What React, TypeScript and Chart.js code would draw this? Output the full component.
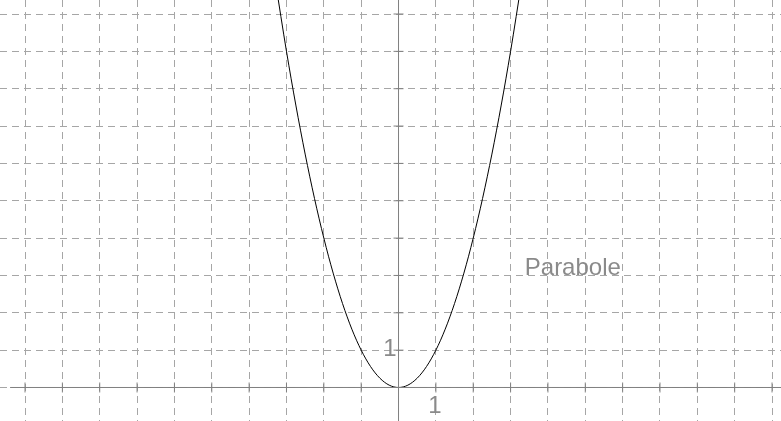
import React, { useEffect, useRef } from "react";
import { Chart, registerables } from "chart.js";

Chart.register(...registerables);

// Parabola points
const parabolaX = [-3.3, -3, -2.75, -2.5, -2.25, -2, -1.75, -1.5, -1.25, -1, -0.75, -0.5, -0.25, 0, 0.25, 0.5, 0.75, 1, 1.25, 1.5, 1.75, 2, 2.25, 2.5, 2.75, 3, 3.3];
const parabolaY = [10.89, 9, 7.5625, 6.25, 5.0625, 4, 3.0625, 2.25, 1.5625, 1, 0.5625, 0.25, 0.0625, 0, 0.0625, 0.25, 0.5625, 1, 1.5625, 2.25, 3.0625, 4, 5.0625, 6.25, 7.5625, 9, 10.89];

// Axis tick marks
const xTickValues = [-10, -9, -8, -7, -6, -5, -4, -3, -2, -1, 1, 2, 3, 4, 5, 6, 7, 8, 9, 10];
const yTickValues = [1, 2, 3, 4, 5, 6, 7, 8, 9, 10];

// Axis extents
const xAxisRange = [-10.4, 10.3];
const yAxisRange = [-1, 11];

// View window
const xMin = -10.67;
const xMax = 10.24;
const yMin = -0.897;
const yMax = 10.375;

// Labels
const curveLabel = "Parabole";
const curveLabelPos = [3.38, 3];
const unitLabel = "1";

export default function App() {
  const ref = useRef<HTMLCanvasElement>(null);
  useEffect(() => {
    const canvas = ref.current;
    if (!canvas) return;
    const labelPlugin = {
      id: "labels",
      afterDatasetsDraw(chart: any) {
        const ctx = chart.ctx;
        const xs = chart.scales.x;
        const ys = chart.scales.y;
        ctx.save();
        ctx.fillStyle = "#8a8a8a";
        ctx.font = '24px "Liberation Sans", Arial, sans-serif';
        ctx.textBaseline = "alphabetic";
        // Curve label
        ctx.textAlign = "left";
        ctx.fillText(curveLabel, xs.getPixelForValue(curveLabelPos[0]), ys.getPixelForValue(curveLabelPos[1]));
        // y unit label
        ctx.textAlign = "right";
        ctx.fillText(unitLabel, xs.getPixelForValue(0) - 2, ys.getPixelForValue(1) + 6);
        // x unit label
        ctx.textAlign = "center";
        ctx.fillText(unitLabel, xs.getPixelForValue(1) - 1, ys.getPixelForValue(0) + 26);
        ctx.restore();
      },
    };
    const axisColor = "#808080";
    const chart = new Chart(canvas, {
      type: "scatter",
      data: {
        datasets: [
          {
            data: [
              { x: xAxisRange[0], y: 0 },
              { x: xAxisRange[1], y: 0 },
            ],
            showLine: true,
            borderColor: axisColor,
            borderWidth: 1,
            pointRadius: 0,
          },
          {
            data: [
              { x: 0, y: yAxisRange[0] },
              { x: 0, y: yAxisRange[1] },
            ],
            showLine: true,
            borderColor: axisColor,
            borderWidth: 1,
            pointRadius: 0,
          },
          {
            data: xTickValues.map((v) => ({ x: v, y: 0 })),
            showLine: false,
            pointStyle: "line",
            rotation: 90,
            pointRadius: 5,
            borderColor: axisColor,
            borderWidth: 1,
          },
          {
            data: yTickValues.map((v) => ({ x: 0, y: v })),
            showLine: false,
            pointStyle: "line",
            rotation: 0,
            pointRadius: 5,
            borderColor: axisColor,
            borderWidth: 1,
          },
          {
            data: parabolaX.map((x, i) => ({ x, y: parabolaY[i] })),
            showLine: true,
            borderColor: "#000000",
            borderWidth: 1,
            pointRadius: 0,
            cubicInterpolationMode: "monotone",
          },
        ],
      },
      options: {
        responsive: false,
        animation: false,
        events: [],
        layout: { padding: 0, autoPadding: false },
        plugins: { legend: { display: false }, tooltip: { enabled: false } },
        scales: {
          x: {
            type: "linear",
            min: xMin,
            max: xMax,
            ticks: { display: false, stepSize: 1, includeBounds: false },
            grid: { color: "#a6a6a6", lineWidth: 1, drawTicks: false },
            border: { display: false, dash: [7, 5] },
          },
          y: {
            type: "linear",
            min: yMin,
            max: yMax,
            ticks: { display: false, stepSize: 1, includeBounds: false },
            grid: { color: "#a6a6a6", lineWidth: 1, drawTicks: false },
            border: { display: false, dash: [7, 5] },
          },
        },
      },
      plugins: [labelPlugin],
    } as any);
    return () => chart.destroy();
  }, []);
  return (
    <div style={{ position: "absolute", left: 0, top: 0, width: 781, height: 421, background: "#fff" }}>
      <canvas ref={ref} width={781} height={421} style={{ display: "block" }} />
    </div>
  );
}
